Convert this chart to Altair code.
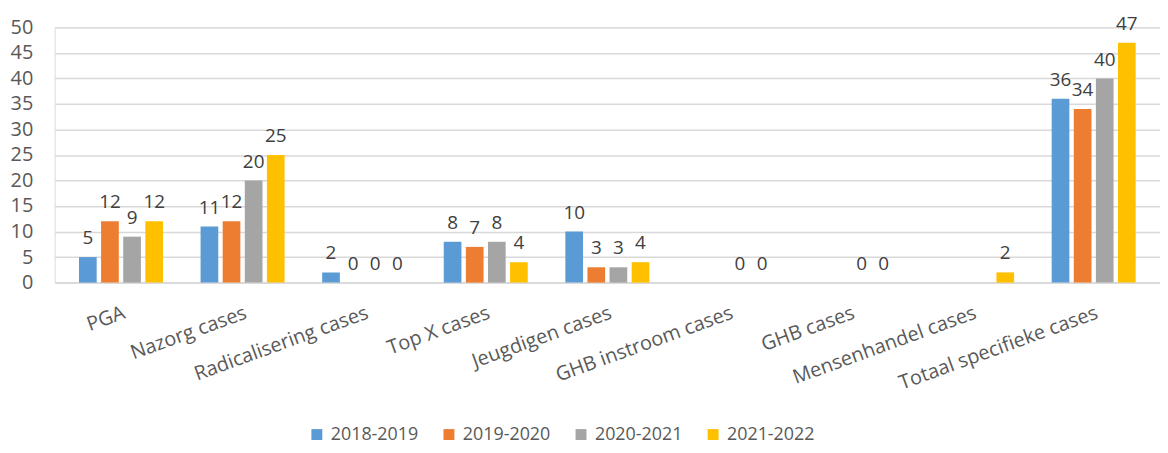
import altair as alt
import pandas as pd

categories = ["PGA", "Nazorg cases", "Radicalisering cases", "Top X cases",
              "Jeugdigen cases", "GHB instroom cases", "GHB cases",
              "Mensenhandel cases", "Totaal specifieke cases"]
years = ["2018-2019", "2019-2020", "2020-2021", "2021-2022"]
v_2018_2019 = [5, 11, 2, 8, 10, None, None, None, 36]
v_2019_2020 = [12, 12, 0, 7, 3, None, None, None, 34]
v_2020_2021 = [9, 20, 0, 8, 3, 0, 0, None, 40]
v_2021_2022 = [12, 25, 0, 4, 4, 0, 0, 2, 47]
colors = ["#5B9BD5", "#ED7D31", "#A5A5A5", "#FFC000"]
y_ticks = list(range(0, 55, 5))

rows = []
for yr, vals in zip(years, [v_2018_2019, v_2019_2020, v_2020_2021, v_2021_2022]):
    for c, v in zip(categories, vals):
        if v is not None:
            rows.append({"cat": c, "year": yr, "value": v})
df = pd.DataFrame(rows)

FONT = "Open Sans"

x_enc = alt.X("cat:N", sort=categories, title=None,
              scale=alt.Scale(paddingInner=0.309),
              axis=alt.Axis(labelAngle=340, labelAlign="right", labelBaseline="top",
                            labelPadding=20, labelFontSize=20,
                            labelColor="#595959", labelFont=FONT, ticks=False,
                            domain=True, domainColor="#D9D9D9", domainWidth=1.5,
                            labelLimit=400, labelOverlap=False))
xo_enc = alt.XOffset("year:N", sort=years, scale=alt.Scale(paddingInner=0.2, paddingOuter=0))
y_axis = alt.Axis(values=y_ticks, ticks=False, domain=False, labelOverlap=False,
                  labelFontSize=20, labelColor="#595959", labelFont=FONT,
                  labelPadding=22, gridColor="#D9D9D9", gridWidth=1.5)
y_enc = alt.Y("value:Q", title=None, scale=alt.Scale(domain=[0, 50], nice=False), axis=y_axis)

bars = alt.Chart(df).mark_bar().encode(
    x=x_enc, xOffset=xo_enc, y=y_enc,
    color=alt.Color("year:N", sort=years, scale=alt.Scale(domain=years, range=colors),
                    legend=alt.Legend(title=None, orient="none", direction="horizontal",
                                      legendX=255, legendY=401, symbolType="square",
                                      symbolSize=121, symbolStrokeWidth=0,
                                      labelFontSize=18, labelFont=FONT,
                                      labelColor="#595959", columnPadding=21,
                                      labelOffset=5, padding=0))
)

labels = alt.Chart(df).mark_text(baseline="alphabetic", dy=-13, fontSize=19,
                                 font=FONT, color="#404040").encode(
    x=x_enc, xOffset=xo_enc, y=y_enc, text=alt.Text("value:Q")
)

chart = alt.layer(bars, labels).properties(
    width=1113, height=257,
    autosize=alt.AutoSizeParams(type="none"),
    padding={"left": 47, "top": 18, "right": 0, "bottom": 162},
).configure_view(stroke=None).configure(background="white")

chart.save("out.html", embed_options={"renderer": "svg", "actions": False})
